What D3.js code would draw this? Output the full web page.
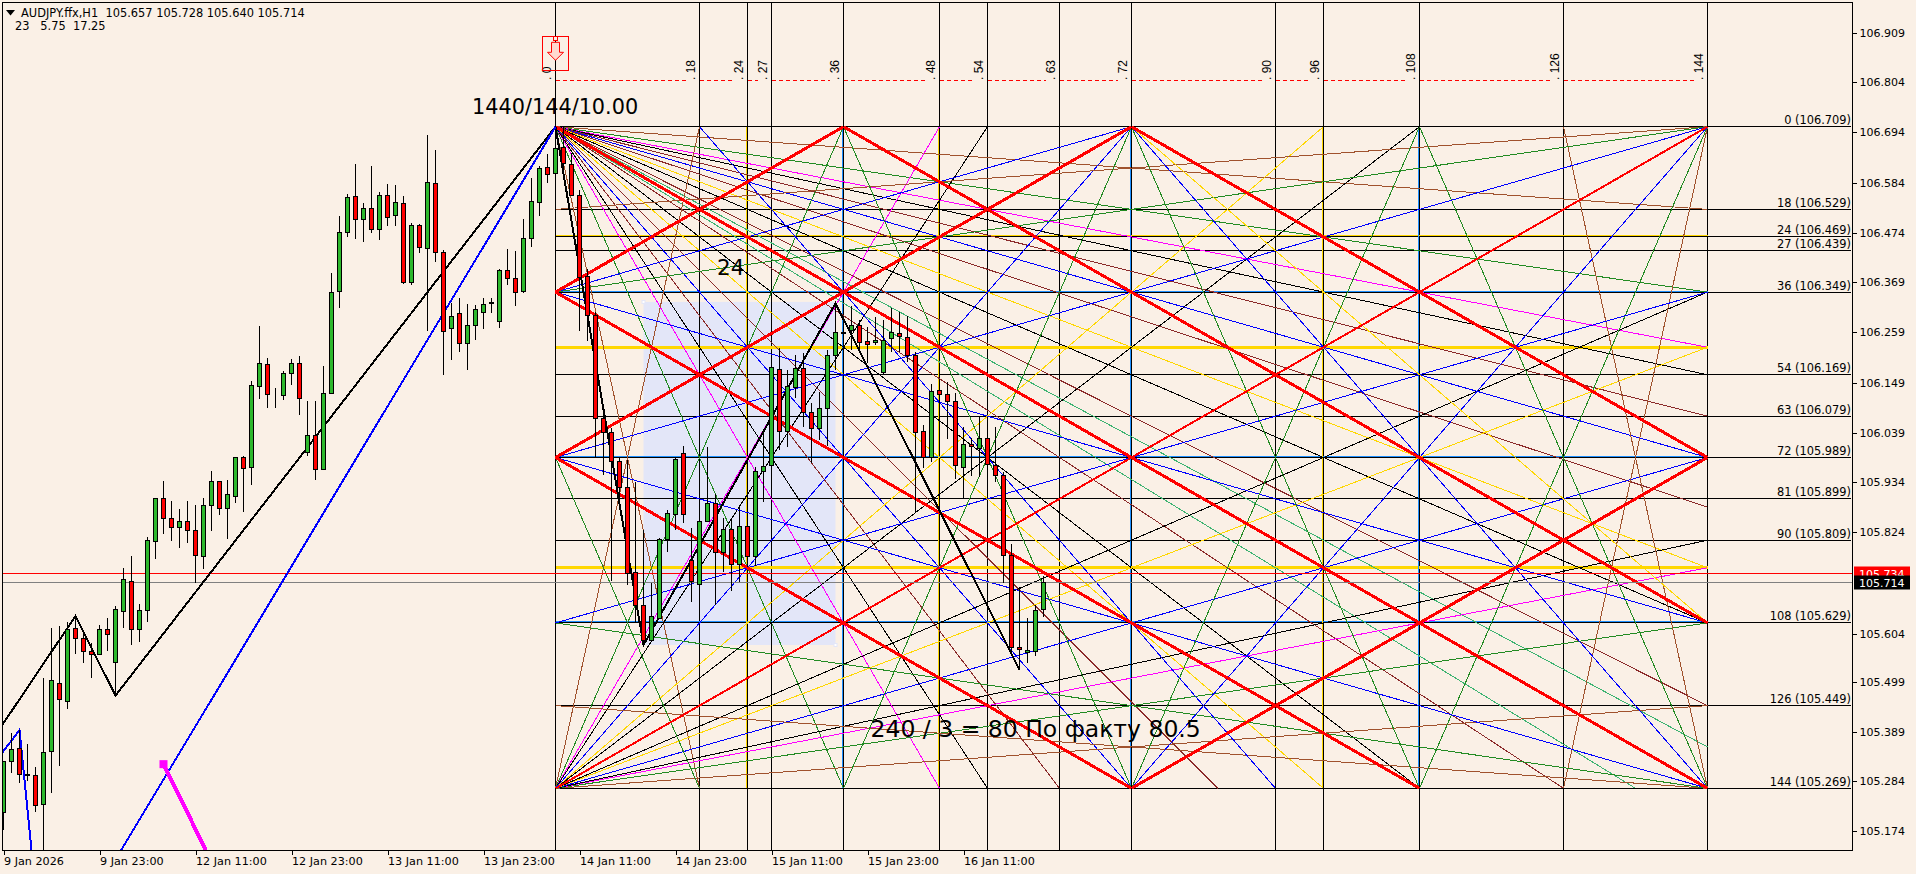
<!DOCTYPE html>
<html><head><meta charset="utf-8">
<script src="https://cdnjs.cloudflare.com/ajax/libs/d3/7.8.5/d3.min.js"></script>
<style>html,body{margin:0;padding:0;background:#FAF0E6;overflow:hidden}svg{display:block}text{font-family:"DejaVu Sans",sans-serif}</style>
</head><body><svg id="c" width="1916" height="874"></svg>
<script>
// ---- price data (H1 candles, oldest first) ----
const opens=[105.215,105.325,105.354,105.297,105.296,105.232,105.347,105.496,105.456,105.615,105.594,105.565,105.559,105.613,105.541,105.651,105.718,105.612,105.654,105.804,105.898,105.854,105.834,105.848,105.828,105.771,105.883,105.935,105.875,105.903,105.987,105.965,106.141,106.189,106.124,106.121,106.170,106.191,105.997,106.035,105.960,106.126,106.348,106.476,106.555,106.505,106.528,106.483,106.557,106.513,106.539,106.368,106.491,106.441,106.583,106.433,106.268,106.300,106.235,106.274,106.302,106.323,106.282,106.394,106.376,106.348,106.463,106.541,106.618,106.605,106.660,106.624,106.556,106.381,106.296,106.071,106.041,105.978,105.922,105.737,105.665,105.589,105.637,105.809,105.863,105.996,105.762,105.711,105.847,105.887,105.781,105.830,105.754,105.836,105.772,105.956,105.970,106.179,106.043,106.139,106.181,106.084,106.050,106.094,106.208,106.258,106.262,106.273,106.240,106.237,106.172,106.246,106.257,106.248,106.209,106.043,105.987,106.132,106.124,106.108,105.965,106.015,106.007,106.028,105.969,105.948,105.774,105.574,105.563,105.564,105.657];
const highs=[105.327,105.387,105.394,105.364,105.313,105.507,105.615,105.621,105.628,105.642,105.604,105.583,105.622,105.638,105.663,105.746,105.772,105.668,105.813,105.898,105.935,105.892,105.875,105.892,105.883,105.898,105.957,105.936,105.938,105.987,105.990,106.153,106.273,106.202,106.137,106.175,106.200,106.207,106.109,106.109,106.186,106.388,106.512,106.559,106.625,106.541,106.620,106.565,106.581,106.579,106.555,106.497,106.494,106.688,106.655,106.438,106.322,106.333,106.320,106.318,106.333,106.333,106.396,106.440,106.436,106.505,106.594,106.621,106.647,106.681,106.705,106.649,106.568,106.396,106.303,106.081,106.051,105.988,105.981,105.934,105.830,105.713,105.811,105.872,105.985,106.012,105.833,105.848,106.009,105.907,105.855,105.855,105.883,105.858,105.967,106.047,106.209,106.225,106.177,106.209,106.214,106.105,106.130,106.220,106.322,106.286,106.317,106.286,106.271,106.293,106.286,106.311,106.304,106.294,106.217,106.057,106.146,106.151,106.151,106.128,106.054,106.029,106.075,106.055,106.054,105.956,105.798,105.706,105.637,105.666,105.728];
const lows=[105.177,105.301,105.278,105.284,105.217,105.133,105.258,105.317,105.440,105.559,105.539,105.508,105.557,105.566,105.470,105.617,105.579,105.585,105.630,105.767,105.821,105.806,105.790,105.801,105.714,105.745,105.827,105.862,105.810,105.888,105.869,105.927,106.114,106.095,106.095,106.112,106.144,106.079,105.990,105.938,105.959,106.126,106.312,106.467,106.462,106.456,106.474,106.460,106.490,106.491,106.365,106.362,106.432,106.262,106.412,106.165,106.199,106.216,106.177,106.242,106.266,106.301,106.269,106.362,106.317,106.344,106.444,106.512,106.584,106.605,106.597,106.555,106.262,106.241,105.986,105.948,105.718,105.883,105.710,105.629,105.579,105.585,105.637,105.782,105.829,105.845,105.673,105.698,105.847,105.666,105.737,105.697,105.717,105.749,105.751,105.890,105.938,106.003,106.010,106.116,106.054,105.975,106.025,106.012,106.177,106.220,106.220,106.220,106.192,106.231,106.166,106.217,106.217,106.195,105.865,105.963,105.978,106.090,106.028,105.941,105.898,105.946,105.945,105.970,105.934,105.713,105.564,105.525,105.540,105.556,105.640];
const closes=[105.325,105.352,105.298,105.296,105.230,105.345,105.502,105.460,105.613,105.593,105.565,105.559,105.613,105.602,105.657,105.722,105.612,105.654,105.807,105.898,105.854,105.834,105.848,105.827,105.773,105.883,105.935,105.875,105.907,105.987,105.963,106.144,106.191,106.124,106.123,106.170,106.191,106.115,106.035,105.960,106.126,106.346,106.476,106.552,106.505,106.528,106.482,106.557,106.509,106.541,106.368,106.491,106.444,106.585,106.433,106.261,106.294,106.235,106.274,106.309,106.320,106.322,106.394,106.376,106.345,106.463,106.544,106.615,106.602,106.659,106.626,106.556,106.378,106.295,106.072,106.041,105.978,105.922,105.735,105.666,105.589,105.640,105.809,105.865,105.983,105.863,105.717,105.848,105.887,105.781,105.830,105.754,105.836,105.771,105.956,105.967,106.183,106.043,106.142,106.181,106.085,106.050,106.094,106.209,106.259,106.257,106.273,106.237,106.233,106.242,106.242,106.259,106.249,106.208,106.041,105.987,106.130,106.124,106.108,105.969,106.014,106.010,106.028,105.972,105.948,105.774,105.573,105.569,105.567,105.654,105.714];

// ---- axes ----
const priceTicks=[106.909,106.804,106.694,106.584,106.474,106.369,106.259,106.149,106.039,105.934,105.824,105.604,105.499,105.389,105.284,105.174];
const timeTickBars=[0,12,24,36,48,60,72,84,96,108,120];
const timeTickLabels=["9 Jan 2026","9 Jan 23:00","12 Jan 11:00","12 Jan 23:00","13 Jan 11:00","13 Jan 23:00","14 Jan 11:00","14 Jan 23:00","15 Jan 11:00","15 Jan 23:00","16 Jan 11:00"];
const headerLine1="AUDJPY.ffx,H1  105.657 105.728 105.640 105.714";
const headerLine2="23   5.75  17.25";
const askPrice=105.734, lastPrice=105.714;

// ---- Gann square: 144 bars x 144 levels, anchored at bar 69 ----
const gridBar=69, gridPrice=106.706, gridLabelPrice=106.709, levelStep=0.00999, labelStep=0.01;
const vLevels=[0,18,24,27,36,48,54,63,72,90,96,108,126,144];
const hLevels=[0,18,24,27,36,54,63,72,81,90,108,126,144];
const goldVert=[24,48,96], blueVert=[36,72,108];
const goldHorizThin=[24], goldHorizThick=[48,96], blueHoriz=[36,72,108];
const COL={brown:"#A0522D",green:"#228B22",magenta:"#FF00FF",black:"#000000",maroon:"#8B2A2A",blue:"#0000FF",gold:"#FFD700",seagreen:"#3CB371",red:"#FF0000",dodger:"#1E90FF"};
const fanTopLeft=[[18,"brown"],[36,"green"],[48,"magenta"],[54,"black"],[63,"maroon"],[72,"blue"],[82.8,"maroon"],[96,"gold"],[108,"black"],[126,"maroon"],[135,"seagreen"]];
const fanBottomLeft=[[18,"brown"],[36,"green"],[48,"magenta"],[54,"black"],[72,"blue"],[96,"gold"],[108,"black"]];
const fanRight=[[18,"brown"],[36,"green"],[72,"blue"]];
const extraRays=[[0,36,72,0,"blue"],[0,36,144,108,"blue"],[0,108,144,36,"blue"],[18,0,90,144,"blue"],[0,72,18,144,"green"],[36,0,72,144,"green"],[72,0,36,144,"green"],[72,0,108,144,"green"],[108,0,72,144,"green"],[72,0,144,108,"gold"]];
const redThick=[[0,0,144,144],[0,36,108,144],[0,72,72,144],[36,0,144,108],[72,0,144,72],[0,36,36,0],[0,72,72,0],[72,144,144,72]];
const redThin=[[0,144,144,0]];

// ---- zigzags: [bar, price] ----
const zigBlack=[[-0.2,105.404],[9,105.642],[14,105.469],[69,106.706],[80,105.579],[104,106.322],[127,105.525]];
const zigBlue1=[[-0.2,105.344],[2,105.394],[3.5,105.133]];
const zigBlue2=[[14.7,105.133],[69,106.706]];
const zigMagenta=[[20,105.320],[25.3,105.133]];
const shadedBars=[80,104], shadedPrices=[106.325,105.579];

// ---- scales ----
const x=d3.scaleLinear().domain([0,130]).range([3.5,1043.5]);
const y=d3.scaleLinear().domain([106.909,105.174]).range([33.3,831.3]);
const gx=u=>x(gridBar+u);
const gy=l=>y(gridPrice-levelStep*l);
const cr=v=>Math.round(v-0.5)+0.5;
const CH={l:2.5,t:2.5,r:1852.5,b:850.5};

const svg=d3.select("#c");
svg.append("rect").attr("width",1916).attr("height",874).attr("fill","#FAF0E6");
const defs=svg.append("defs");
defs.append("clipPath").attr("id","plot").append("rect").attr("x",CH.l).attr("y",CH.t).attr("width",CH.r-CH.l).attr("height",CH.b-CH.t);
const plot=svg.append("g").attr("clip-path","url(#plot)");

// shaded rectangle
plot.append("rect").attr("x",x(shadedBars[0])).attr("y",y(shadedPrices[0])).attr("width",x(shadedBars[1])-x(shadedBars[0])).attr("height",y(shadedPrices[1])-y(shadedPrices[0])).attr("fill","#E3E6F8");

// fans
const rays=[];
fanTopLeft.forEach(([k,c])=>{rays.push([0,0,144,k,c],[0,0,k,144,c]);});
fanBottomLeft.forEach(([k,c])=>{rays.push([0,144,144,144-k,c],[0,144,k,0,c]);});
fanRight.forEach(([k,c])=>{rays.push([144,0,0,k,c],[144,0,144-k,144,c],[144,144,0,144-k,c],[144,144,144-k,0,c]);});
extraRays.forEach(r=>rays.push(r));

const ln=(sel,data)=>sel.selectAll(null).data(data).join("line")
  .attr("x1",d=>gx(d[0])).attr("y1",d=>gy(d[1])).attr("x2",d=>gx(d[2])).attr("y2",d=>gy(d[3]));

const gLines=plot.append("g").attr("shape-rendering","crispEdges");
// level lines and bar lines
gLines.selectAll(null).data(hLevels).join("line").attr("x1",gx(0)).attr("x2",1851).attr("y1",d=>cr(gy(d))).attr("y2",d=>cr(gy(d))).attr("stroke","#000");
gLines.selectAll(null).data(vLevels).join("line").attr("x1",d=>gx(d)).attr("x2",d=>gx(d)).attr("y1",CH.t).attr("y2",CH.b).attr("stroke","#000");
gLines.selectAll(null).data(blueHoriz).join("line").attr("x1",gx(0)).attr("x2",gx(144)).attr("y1",d=>cr(gy(d))-1).attr("y2",d=>cr(gy(d))-1).attr("stroke",COL.dodger);
gLines.selectAll(null).data(goldHorizThin).join("line").attr("x1",gx(0)).attr("x2",gx(144)).attr("y1",d=>cr(gy(d))-1).attr("y2",d=>cr(gy(d))-1).attr("stroke",COL.gold);
gLines.selectAll(null).data(goldHorizThick).join("line").attr("x1",gx(0)).attr("x2",gx(144)).attr("y1",d=>cr(gy(d))).attr("y2",d=>cr(gy(d))).attr("stroke",COL.gold).attr("stroke-width",3);
gLines.selectAll(null).data(blueVert).join("line").attr("x1",d=>gx(d)-1).attr("x2",d=>gx(d)-1).attr("y1",gy(0)).attr("y2",gy(144)).attr("stroke",COL.dodger);
gLines.selectAll(null).data(goldVert).join("line").attr("x1",d=>gx(d)-1).attr("x2",d=>gx(d)-1).attr("y1",gy(0)).attr("y2",gy(144)).attr("stroke",COL.gold);
// rays
ln(gLines,rays).attr("stroke",d=>COL[d[4]]).attr("stroke-width",1);
ln(gLines,redThin).attr("stroke",COL.red).attr("stroke-width",2);
ln(gLines,redThick).attr("stroke",COL.red).attr("stroke-width",3);

// current price lines
plot.append("line").attr("x1",CH.l).attr("x2",CH.r).attr("y1",cr(y(askPrice))).attr("y2",cr(y(askPrice))).attr("stroke","#FF0000").attr("shape-rendering","crispEdges");
plot.append("line").attr("x1",CH.l).attr("x2",CH.r).attr("y1",cr(y(lastPrice))).attr("y2",cr(y(lastPrice))).attr("stroke","#808080").attr("shape-rendering","crispEdges");

// zigzags
const zz=d3.line().x(d=>x(d[0])).y(d=>y(d[1]));
const addZig=(d,c,w)=>plot.append("path").attr("d",zz(d)).attr("fill","none").attr("stroke",c).attr("stroke-width",w).attr("shape-rendering","crispEdges");
addZig(zigBlack,"#000",2);
addZig(zigBlue1,"#0000FF",2);
addZig(zigBlue2,"#0000FF",2);
addZig(zigMagenta,"#FF00FF",4);
plot.append("rect").attr("x",x(zigMagenta[0][0])-4).attr("y",y(zigMagenta[0][1])-4).attr("width",8).attr("height",8).attr("fill","#FF00FF");
[[shadedBars[0],shadedPrices[0]],[shadedBars[1],shadedPrices[1]]].forEach(([b,p])=>plot.append("rect").attr("x",x(b)-1.5).attr("y",y(p)-1.5).attr("width",3).attr("height",3).attr("fill","#fff").attr("stroke","#E3E6F8"));

// candles
const idx=d3.range(opens.length);
const gC=plot.append("g").attr("shape-rendering","crispEdges");
gC.selectAll("line").data(idx).join("line").attr("x1",i=>x(i)).attr("x2",i=>x(i)).attr("y1",i=>Math.round(y(highs[i]))).attr("y2",i=>Math.round(y(lows[i]))).attr("stroke","#000");
gC.selectAll("rect").data(idx).join("rect")
  .attr("x",i=>x(i)-2).attr("width",4)
  .attr("y",i=>cr(y(Math.max(opens[i],closes[i]))))
  .attr("height",i=>Math.max(0,cr(y(Math.min(opens[i],closes[i])))-cr(y(Math.max(opens[i],closes[i])))))
  .attr("fill",i=>closes[i]>=opens[i]?"#2DB82D":"#FF0000").attr("stroke","#000");

// top dashed line and rotated labels
const gTop=svg.append("g");
const dashY=80.5;
vLevels.slice(0,-1).forEach((v,k)=>{
  gTop.append("line").attr("x1",gx(v)).attr("x2",gx(vLevels[k+1])-14).attr("y1",dashY).attr("y2",dashY).attr("stroke","#FF0000").attr("stroke-dasharray","4,3").attr("shape-rendering","crispEdges");
});
gTop.selectAll("text").data(vLevels).join("text").attr("transform",d=>`translate(${gx(d)-5},80) rotate(-90)`).attr("font-size",12).style("font-family",'"Liberation Sans",sans-serif').attr("fill","#000").text(d=>". "+d);

// level labels
svg.append("g").selectAll("text").data(hLevels).join("text").attr("x",1851).attr("y",d=>cr(gy(d))-3).attr("text-anchor","end").attr("font-size",11.4).attr("fill","#000").text(d=>`${d} (${(gridLabelPrice-labelStep*d).toFixed(3)})`);

// arrow object
const ax=gx(0), ay=y(106.909);
const ag=svg.append("g");
ag.append("rect").attr("x",ax-13).attr("y",ay+3).attr("width",26).attr("height",34).attr("fill","none").attr("stroke","#FF0000").attr("shape-rendering","crispEdges");
ag.append("rect").attr("x",ax-2).attr("y",ay+3).attr("width",4).attr("height",4).attr("fill","#FAF0E6").attr("stroke","#FF0000").attr("shape-rendering","crispEdges");
const ap=d3.path();ap.moveTo(ax-4,ay+9);ap.lineTo(ax+4,ay+9);ap.lineTo(ax+4,ay+19);ap.lineTo(ax+8,ay+19);ap.lineTo(ax,ay+27);ap.lineTo(ax-8,ay+19);ap.lineTo(ax-4,ay+19);ap.closePath();
ag.append("path").attr("d",ap.toString()).attr("fill","#FFD8D0").attr("stroke","#FF0000");

// annotations
svg.append("text").attr("x",472).attr("y",114).attr("font-size",20.8).attr("fill","#000").text("1440/144/10.00");
svg.append("text").attr("x",717).attr("y",275).attr("font-size",21.5).attr("fill","#000").text("24");
svg.append("text").attr("x",870.5).attr("y",737).attr("font-size",23.5).attr("fill","#000").text("240 / 3 = 80 По факту 80.5");

// frame and axes
svg.append("rect").attr("x",CH.l).attr("y",CH.t).attr("width",CH.r-CH.l).attr("height",CH.b-CH.t).attr("fill","none").attr("stroke","#000").attr("shape-rendering","crispEdges");
const yAxis=d3.axisRight(y).tickValues(priceTicks).tickSize(4).tickPadding(3).tickFormat(d3.format(".3f"));
const ya=svg.append("g").attr("transform",`translate(${CH.r},0)`).call(yAxis);
ya.select(".domain").remove();
ya.selectAll("text").attr("font-size",11).attr("font-family",'"DejaVu Sans",sans-serif').attr("fill","#000");
ya.selectAll("line").attr("stroke","#000").attr("shape-rendering","crispEdges");
const xAxis=d3.axisBottom(x).tickValues(timeTickBars).tickSize(4).tickPadding(3).tickFormat((d,i)=>timeTickLabels[i]);
const xa=svg.append("g").attr("transform",`translate(0,${CH.b})`).call(xAxis);
xa.select(".domain").remove();
xa.selectAll("text").attr("font-size",11.2).attr("font-family",'"DejaVu Sans",sans-serif').attr("fill","#000").attr("text-anchor","start");
xa.selectAll("line").attr("stroke","#000").attr("shape-rendering","crispEdges");

// price tags
const tag=(p,bg,fg)=>{const g=svg.append("g");
 g.append("rect").attr("x",1854).attr("y",cr(y(p))-7).attr("width",56).attr("height",14).attr("fill",bg);
 g.append("text").attr("x",1859).attr("y",cr(y(p))+4).attr("font-size",11).attr("fill",fg).text(p.toFixed(3));};
tag(askPrice,"#FF0000","#fff");
tag(lastPrice,"#000","#fff");

// header
svg.append("path").attr("d",d3.line()([[6,10],[15,10],[10.5,15.5]])+"Z").attr("fill","#000");
svg.append("text").attr("x",21).attr("y",17).attr("font-size",11.4).attr("fill","#000").style("white-space","pre").text(headerLine1);
svg.append("text").attr("x",15).attr("y",30).attr("font-size",11.4).attr("fill","#000").style("white-space","pre").text(headerLine2);
</script></body></html>
